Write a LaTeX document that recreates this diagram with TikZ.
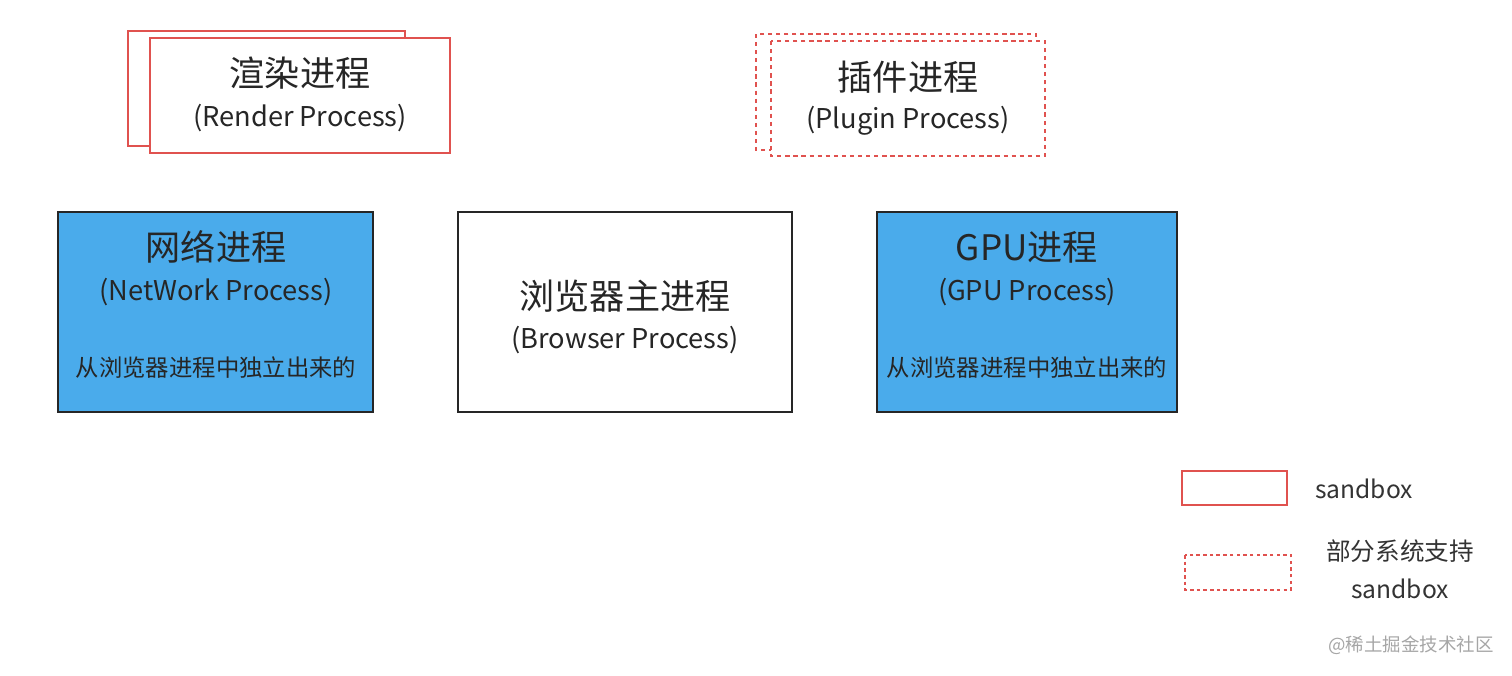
\documentclass[tikz,border=0pt]{standalone}
\usepackage{fontspec}
\setmainfont{Noto Sans CJK SC}
\usetikzlibrary{positioning}
\definecolor{sandred}{HTML}{E0524F}
\definecolor{procblue}{HTML}{4AABEB}
\tikzset{
  sandbox/.style={draw=sandred, line width=1.1pt},
  partbox/.style={draw=sandred, line width=1.6pt, dash pattern=on 2.4pt off 2.2pt},
  procbox/.style={draw=black!85, line width=1.2pt},
  zh/.style={font=\fontsize{20}{23}\selectfont, text=black!85},
  en/.style={font=\fontsize{15.5}{18}\selectfont, text=black!85},
  legend/.style={font=\fontsize{14}{17}\selectfont, text=black!80},
  small/.style={font=\fontsize{13.3}{15}\selectfont, text=black!85},
}
\begin{document}
\begin{tikzpicture}[x=0.02cm, y=-0.02cm]
		%%%%% START %%%%%
		\useasboundingbox (0, 0) rectangle (1512, 676);
		
		% render process (sandbox)
		\draw[sandbox, fill=white] (128, 31) rectangle (405, 146);
		\draw[sandbox, fill=white] (150, 38) rectangle (450, 153);
		\node[zh] (renderzh) at (300, 73) {渲染进程};
		\node[en] (renderen) at (300, 118) {(Render Process)};
		
		% plugin process (partial sandbox)
		\draw[partbox, fill=white] (756, 34) rectangle (1036, 150);
		\draw[partbox, fill=white] (771, 41) rectangle (1045, 156);
		\node[zh] (pluginzh) at (908, 77) {插件进程};
		\node[en] (pluginen) at (908, 121) {(Plugin Process)};
		
		% network process
		\draw[procbox, fill=procblue] (58, 212) rectangle (373, 412);
		\node[zh] (netzh) at (216, 247) {网络进程};
		\node[en] (neten) at (216, 292) {(NetWork Process)};
		\node[small] (netsub) at (216, 368) {从浏览器进程中独立出来的};
		
		% browser process
		\draw[procbox, fill=white] (458, 212) rectangle (792, 412);
		\node[zh] (browserzh) at (625, 296) {浏览器主进程};
		\node[en] (browseren) at (625, 340) {(Browser Process)};
		
		% gpu process
		\draw[procbox, fill=procblue] (877, 212) rectangle (1177, 412);
		\node[zh] (gpuzh) at (1027, 247) {GPU进程};
		\node[en] (gpuen) at (1027, 292) {(GPU Process)};
		\node[small] (gpusub) at (1027, 368) {从浏览器进程中独立出来的};
		
		% legend
		\draw[sandbox, line width=0.8pt] (1182, 471) rectangle (1287, 505);
		\node[legend] (legsand) at (1364, 489) {sandbox};
		\draw[partbox, line width=1.1pt, dash pattern=on 2pt off 1.8pt] (1185, 555) rectangle (1291, 590);
		\node[legend] (legpart) at (1400, 551) {部分系统支持};
		\node[legend] (legpartb) at (1400, 589) {sandbox};
		
		% watermark
		\node[font=\fontsize{10.5}{12}\selectfont, text=black!35] (mark) at (1411, 645) {@稀土掘金技术社区};
		%%%%% END %%%%%
\end{tikzpicture}
\end{document}
